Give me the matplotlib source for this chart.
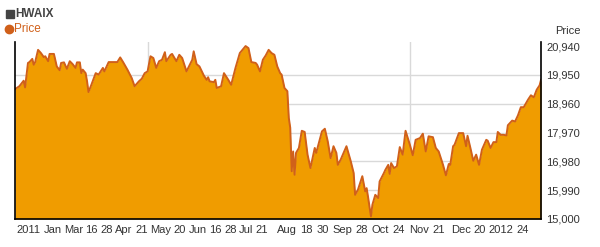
import matplotlib
matplotlib.use('Agg')
import matplotlib.pyplot as plt
from matplotlib.lines import Line2D

plt.rcParams['font.family'] = ['Liberation Sans', 'DejaVu Sans']

# calendar-day offsets (0 = start of 2011) and closing prices
days = [0, 3, 6, 7, 9, 10, 12, 13, 14, 16, 18, 20, 21, 23, 24, 27, 29, 31, 32, 34,
        36, 38, 40, 42, 43, 45, 46, 47, 49, 50, 51, 53, 56, 58, 61, 62, 65, 71, 73, 75,
        78, 81, 83, 86, 88, 90, 92, 94, 96, 98, 100, 102, 104, 105, 108, 109, 112, 114, 116, 119,
        123, 124, 126, 128, 131, 133, 134, 135, 138, 139, 140, 143, 145, 148, 150, 153, 156, 157, 160, 162,
        164, 167, 168, 170, 172, 174, 176, 178, 180, 182, 184, 185, 187, 189, 190, 191, 192, 193, 194, 195,
        197, 199, 201, 203, 205, 208, 209, 213, 215, 217, 219, 221, 223, 224, 226, 230, 233, 235, 236, 238,
        241, 243, 244, 245, 247, 248, 250, 252, 253, 256, 257, 259, 260, 261, 263, 265, 267, 269, 271, 274,
        276, 278, 281, 283, 285, 287, 290, 292, 294, 297, 299, 301, 302, 304, 305, 308, 311, 313, 314, 316,
        318, 320, 322, 324, 327, 328, 330, 332, 334, 335, 337, 339, 341, 342, 345, 347, 349, 351, 353, 356,
        358, 360, 362, 364, 365]
prices = [19460, 19560, 19750, 19520, 20360, 20390, 20500, 20300, 20390, 20810, 20700, 20560, 20590, 20420, 20670, 20670, 20240, 20110, 20360, 20380,
          20160, 20420, 20320, 20190, 20380, 20380, 20010, 20130, 20010, 19730, 19360, 19610, 20010, 19960, 20190, 20070, 20390, 20390, 20550, 20390,
          20130, 19840, 19560, 19730, 19820, 20010, 20070, 20590, 20530, 20190, 20420, 20470, 20730, 20420, 20640, 20670, 20420, 20640, 20530, 20070,
          20470, 20760, 20320, 20240, 19930, 19780, 19870, 19730, 19700, 19780, 19500, 19560, 20010, 19780, 19610, 20190, 20700, 20760, 20940, 20870,
          20390, 20360, 20300, 20070, 20470, 20620, 20810, 20700, 20640, 20240, 20010, 19960, 19500, 19390, 18470, 18130, 16640, 17320, 16520, 17270,
          17440, 18030, 17990, 17210, 16750, 17440, 17270, 18010, 18100, 17670, 17090, 17500, 17270, 16860, 17040, 17500, 16980, 16580, 15830, 16010,
          16470, 15950, 16060, 15750, 15090, 15490, 15830, 15720, 16290, 16580, 16690, 16860, 16550, 16920, 16750, 16810, 17470, 17210, 18030, 17550,
          17190, 17720, 17780, 17930, 17320, 17840, 17810, 17440, 17320, 16860, 16500, 16890, 16860, 17500, 17550, 17950, 17950, 17500, 17860, 17440,
          17000, 17210, 16860, 17380, 17720, 17690, 17440, 17640, 17640, 17990, 17890, 17890, 17870, 18220, 18380, 18350, 18560, 18840, 18840, 19100,
          19250, 19180, 19440, 19590, 19780]

ytick_values = [15000, 15990, 16980, 17970, 18960, 19950, 20940]
tick_labels = ['2011', 'Jan', 'Mar', '16', '28', 'Apr', '21', 'May', '20', 'Jun', '16', '28', 'Jul', '21',
               'Aug', '18', '30', 'Sep', '28', 'Oct', '24', 'Nov', '21', 'Dec', '20', '2012', '24']
tick_days = [9.5, 26, 40.5, 53.2, 63.6, 75.7, 87.8, 101.1, 114.4, 126.7, 139, 149.4, 160.4, 171.5,
             188.8, 202.5, 213.5, 227.2, 240.9, 253.7, 266.4, 280.1, 293.8, 309.5, 322.5, 337, 352.5]
vgrid_days = [92, 274]

fill_color = '#F09C00'
line_color = '#D0601A'
text_color = '#333333'

fig = plt.figure(figsize=(6, 2.47), dpi=100)
ax = fig.add_axes([0.025, 0.1134, 0.8767, 0.7166])

for y in ytick_values[1:-1]:
    ax.axhline(y, color='#d9d9d9', lw=1, zorder=1)
for d in vgrid_days:
    ax.axvline(d, color='#d9d9d9', lw=1, zorder=1)

ax.fill_between(days, prices, 15000, color=fill_color, lw=0, zorder=2)
ax.plot(days, prices, color=line_color, lw=1.4, zorder=3)

ax.set_xlim(0, 365)
ax.set_ylim(15000, 21080)

ax.yaxis.tick_right()
ax.set_yticks(ytick_values)
ax.set_yticklabels([f'{v:,}' for v in ytick_values])
ax.set_xticks(tick_days)
ax.set_xticklabels(tick_labels)
ax.tick_params(axis='both', length=0, labelsize=8, colors=text_color)
ax.tick_params(axis='y', pad=4)
ax.tick_params(axis='x', pad=4)

ax.spines['top'].set_visible(False)
for s in ['left', 'right', 'bottom']:
    ax.spines[s].set_color('black')
    ax.spines[s].set_linewidth(1.2)
    ax.spines[s].set_zorder(4)

# legend block in the top-left corner
fig.add_artist(Line2D([0.016], [0.943], marker='s', color='#444444', markersize=6, ls='none'))
fig.text(0.026, 0.943, 'HWAIX', fontsize=8.5, fontweight='bold', color='#444444', va='center')
fig.add_artist(Line2D([0.015], [0.883], marker='o', color=line_color, markersize=6, ls='none'))
fig.text(0.024, 0.883, 'Price', fontsize=8.5, color=line_color, va='center')

fig.text(0.947, 0.874, 'Price', fontsize=8, color=text_color, ha='center', va='center')

fig.savefig('out.png', dpi=100)
